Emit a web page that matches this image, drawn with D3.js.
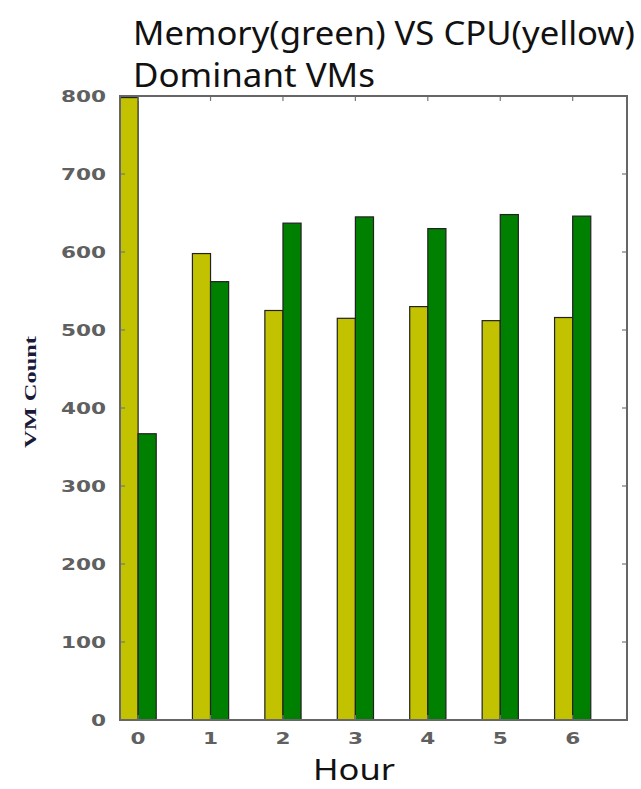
<!DOCTYPE html>
<html>
<head>
<meta charset="utf-8">
<script src="https://cdn.jsdelivr.net/npm/d3@7"></script>
<style>
  html, body { margin: 0; padding: 0; background: #fff; }
  svg { display: block; }
</style>
</head>
<body>
<svg id="chart" width="641" height="789"></svg>
<script>
// Hours on the x axis
const hours = [0, 1, 2, 3, 4, 5, 6];
// CPU-dominant VM counts (yellow)
const cpuCounts = [798, 598, 525, 515, 530, 512, 516];
// Memory-dominant VM counts (green)
const memCounts = [367, 562, 637, 645, 630, 648, 646];
// Y tick values
const yTicks = [0, 100, 200, 300, 400, 500, 600, 700, 800];
const titleLines = ["Memory(green) VS CPU(yellow)", "Dominant VMs"];

const barWidth = 0.25;
const plot = { left: 120, right: 627, top: 96, bottom: 720 };

const svg = d3.select("#chart");

const x = d3.scaleLinear().domain([0, 7]).range([plot.left, plot.right]);
const y = d3.scaleLinear().domain([0, 800]).range([plot.bottom, plot.top]);

// Bars
const g = svg.append("g");
g.selectAll("rect.cpu").data(hours).join("rect")
  .attr("class", "cpu")
  .attr("x", d => x(d))
  .attr("width", x(barWidth) - x(0))
  .attr("y", (d, i) => y(cpuCounts[i]))
  .attr("height", (d, i) => y(0) - y(cpuCounts[i]))
  .attr("fill", "#c2c200")
  .attr("stroke", "#222")
  .attr("stroke-width", 1.2);

g.selectAll("rect.mem").data(hours).join("rect")
  .attr("class", "mem")
  .attr("x", d => x(d + barWidth))
  .attr("width", x(barWidth) - x(0))
  .attr("y", (d, i) => y(memCounts[i]))
  .attr("height", (d, i) => y(0) - y(memCounts[i]))
  .attr("fill", "#008000")
  .attr("stroke", "#222")
  .attr("stroke-width", 1.2);

// Inward ticks on all four sides
const tickLen = 5;
const ticks = svg.append("g").attr("stroke", "#777").attr("stroke-width", 1.2);
yTicks.forEach(v => {
  ticks.append("line").attr("x1", plot.left).attr("x2", plot.left + tickLen)
    .attr("y1", y(v)).attr("y2", y(v));
  ticks.append("line").attr("x1", plot.right).attr("x2", plot.right - tickLen)
    .attr("y1", y(v)).attr("y2", y(v));
});
hours.forEach(h => {
  const xx = x(h + barWidth);
  ticks.append("line").attr("x1", xx).attr("x2", xx)
    .attr("y1", plot.bottom).attr("y2", plot.bottom - tickLen);
  ticks.append("line").attr("x1", xx).attr("x2", xx)
    .attr("y1", plot.top).attr("y2", plot.top + tickLen);
});

// Frame
svg.append("rect")
  .attr("x", plot.left).attr("y", plot.top)
  .attr("width", plot.right - plot.left).attr("height", plot.bottom - plot.top)
  .attr("fill", "none").attr("stroke", "#666").attr("stroke-width", 2);

// Tick labels (wide, bold, gray)
const sx = 1.35;
const tickFont = "'DejaVu Sans', sans-serif";
svg.append("g").selectAll("text").data(yTicks).join("text")
  .attr("transform", d => `translate(106,${y(d) + 6}) scale(${sx},1)`)
  .attr("text-anchor", "end")
  .attr("font-family", tickFont).attr("font-weight", "bold")
  .attr("font-size", 16).attr("fill", "#606060")
  .text(d => d);

svg.append("g").selectAll("text").data(hours).join("text")
  .attr("transform", d => `translate(${x(d + barWidth)},744) scale(${sx},1)`)
  .attr("text-anchor", "middle")
  .attr("font-family", tickFont).attr("font-weight", "bold")
  .attr("font-size", 16).attr("fill", "#606060")
  .text(d => d);

// Axis titles
svg.append("text")
  .attr("x", 354).attr("y", 780)
  .attr("text-anchor", "middle")
  .attr("font-family", "'Noto Sans', sans-serif")
  .attr("font-size", 29).attr("fill", "#111")
  .attr("textLength", 82).attr("lengthAdjust", "spacingAndGlyphs")
  .text("Hour");

svg.append("text")
  .attr("transform", "translate(36,392) rotate(-90)")
  .attr("text-anchor", "middle")
  .attr("font-family", "'Liberation Serif', serif")
  .attr("font-weight", "bold")
  .attr("font-size", 17).attr("fill", "#1a1a3a")
  .attr("textLength", 112).attr("lengthAdjust", "spacingAndGlyphs")
  .text("VM Count");

// Title
const titleWidths = [502, 242];
svg.append("g").selectAll("text").data(titleLines).join("text")
  .attr("x", 133)
  .attr("y", (d, i) => 45 + i * 42)
  .attr("font-family", "'Noto Sans', sans-serif")
  .attr("font-size", 33).attr("fill", "#111")
  .attr("textLength", (d, i) => titleWidths[i])
  .attr("lengthAdjust", "spacingAndGlyphs")
  .text(d => d);
</script>
</body>
</html>
